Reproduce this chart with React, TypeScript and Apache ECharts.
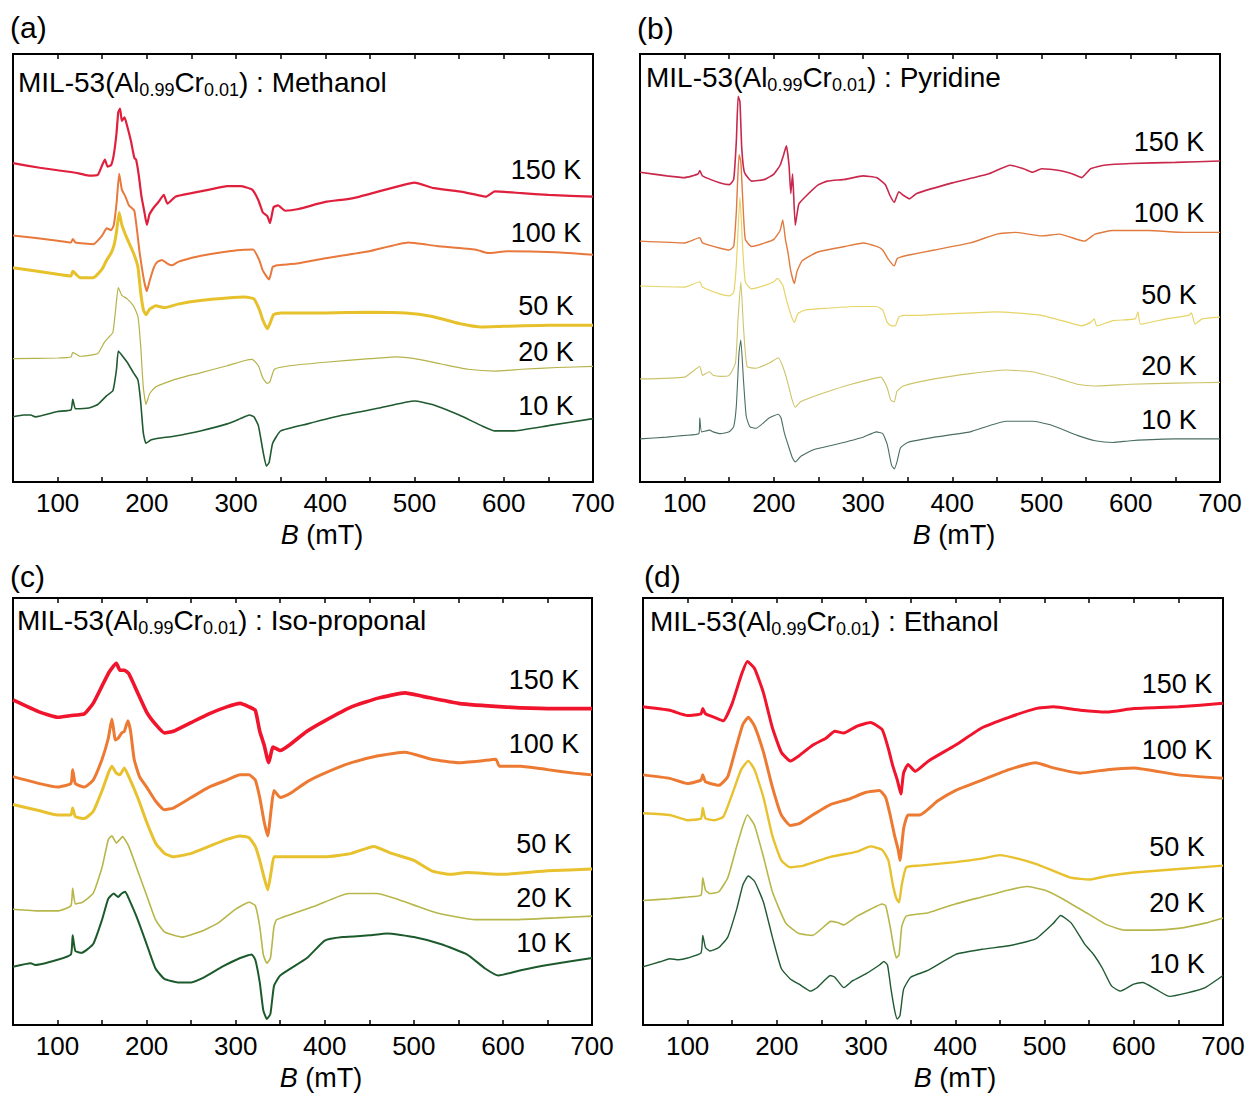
import React, { useEffect, useRef } from 'react';
import * as echarts from 'echarts';

// ---- Data: B (mT) vs EPR signal (arbitrary units, offset stacks) ----
const temperatures = ['150 K', '100 K', '50 K', '20 K', '10 K'];
const fieldTicks = [100, 200, 300, 400, 500, 600, 700];

// (a) Methanol
const methanol150 = [[50,935],[80,922],[100,915],[120,908],[135,900],[145,902],[150,930],[153,945],[156,925],[160,930],[163,960],[166,1020],[168,1080],[170,1090],[172,1055],[175,1065],[178,1040],[182,1000],[186,950],[188,945],[191,900],[194,840],[197,800],[200,760],[203,790],[208,810],[213,825],[219,845],[223,820],[232,840],[250,850],[270,860],[290,870],[305,870],[318,860],[325,830],[330,795],[335,785],[338,765],[342,810],[347,815],[355,800],[370,805],[400,825],[430,835],[460,855],[490,875],[500,880],[520,865],[550,855],[570,845],[580,840],[590,855],[620,850],[650,845],[700,840]];
const methanol100 = [[50,730],[100,715],[115,710],[117,720],[120,710],[140,705],[150,730],[155,750],[160,745],[163,760],[166,820],[169,905],[172,860],[176,840],[180,815],[186,800],[192,680],[197,600],[200,572],[203,600],[208,640],[212,655],[217,660],[223,650],[228,645],[235,655],[257,670],[279,680],[301,688],[319,690],[326,660],[330,630],[337,605],[341,640],[346,645],[368,650],[400,665],[449,685],[493,710],[525,700],[568,690],[582,680],[604,685],[658,682],[700,675]];
const methanol50 = [[50,638],[100,620],[115,615],[117,628],[125,610],[140,610],[150,635],[155,660],[160,680],[163,700],[166,740],[169,795],[172,760],[178,720],[185,680],[190,640],[193,570],[196,520],[199,505],[203,520],[210,530],[220,525],[235,535],[260,545],[290,552],[310,555],[320,550],[326,520],[330,490],[335,465],[338,480],[342,505],[350,510],[400,510],[450,512],[490,510],[520,500],[550,480],[575,470],[600,472],[650,475],[700,475]];
const methanol20 = [[50,380],[100,382],[115,385],[117,398],[125,387],[145,395],[152,425],[157,440],[162,455],[165,520],[168,582],[172,560],[178,550],[185,530],[190,500],[193,420],[196,300],[199,250],[203,280],[210,300],[230,320],[260,340],[290,360],[310,375],[318,378],[325,360],[330,325],[335,310],[338,315],[343,350],[360,360],[400,370],[450,380],[480,385],[500,380],[530,365],[560,350],[590,345],[620,350],[660,355],[700,358]];
const methanol10 = [[50,215],[62,220],[70,220],[75,215],[100,230],[115,235],[117,265],[120,238],[135,240],[145,250],[155,275],[162,290],[166,350],[168,402],[172,390],[178,370],[185,340],[190,320],[193,260],[196,170],[199,140],[205,150],[215,155],[230,160],[260,175],[290,195],[305,210],[315,220],[320,215],[325,190],[330,120],[334,75],[337,85],[341,140],[350,175],[380,195],[420,220],[460,240],[500,260],[520,250],[550,220],[575,190],[590,175],[610,175],[650,190],[700,210]];

// (b) Pyridine
const pyridine150 = [[50,910],[80,900],[100,895],[115,905],[117,915],[120,900],[140,880],[150,875],[155,890],[158,1000],[160,1125],[162,1110],[164,980],[167,910],[175,885],[190,890],[200,905],[207,930],[211,960],[214,985],[217,930],[219,850],[221,905],[224,760],[228,820],[235,840],[250,875],[260,885],[280,890],[300,900],[315,895],[325,875],[330,845],[335,825],[340,855],[345,845],[352,835],[360,850],[400,880],[440,905],[465,930],[480,920],[490,910],[500,920],[520,915],[535,905],[545,895],[555,920],[570,930],[600,935],[650,938],[700,942]];
const pyridine100 = [[50,715],[100,710],[117,725],[120,710],[140,695],[150,690],[155,700],[158,800],[161,960],[163,940],[165,840],[168,720],[175,700],[190,710],[200,720],[207,745],[210,775],[213,720],[216,680],[219,630],[223,595],[226,630],[232,660],[250,685],[280,700],[300,710],[315,700],[322,690],[328,665],[335,645],[338,665],[342,670],[350,675],[380,690],[420,710],[450,735],[470,740],[500,730],[520,735],[540,720],[548,715],[560,735],[580,745],[620,745],[660,740],[700,740]];
const pyridine50 = [[50,588],[100,585],[117,600],[120,585],[140,565],[150,560],[155,570],[158,650],[162,840],[165,700],[168,600],[175,580],[190,590],[200,600],[204,610],[210,590],[215,540],[220,500],[223,485],[227,510],[235,520],[260,525],[290,530],[315,530],[322,520],[327,485],[332,475],[336,475],[340,500],[345,505],[360,505],[400,510],[450,515],[470,512],[500,505],[530,485],[545,475],[555,485],[559,495],[562,475],[580,490],[605,495],[608,515],[611,480],[640,495],[665,505],[668,512],[672,480],[680,495],[700,500]];
const pyridine20 = [[50,325],[100,330],[117,360],[120,335],[128,345],[132,335],[140,332],[150,335],[157,370],[160,500],[163,600],[166,470],[170,360],[180,355],[195,370],[205,385],[210,360],[215,320],[220,270],[224,245],[230,260],[250,280],[280,305],[310,325],[320,330],[327,300],[331,265],[335,260],[338,290],[345,305],[380,325],[420,340],[460,350],[490,345],[520,325],[540,310],[560,305],[600,310],[650,313],[700,315]];
const pyridine10 = [[50,155],[80,160],[100,165],[116,170],[117,215],[119,175],[128,180],[132,175],[140,170],[150,175],[155,190],[158,250],[161,400],[163,435],[166,320],[169,220],[173,190],[180,185],[195,215],[205,225],[208,215],[212,170],[217,130],[221,100],[224,90],[230,105],[245,125],[270,140],[300,160],[315,175],[322,170],[327,140],[332,80],[335,70],[338,90],[342,130],[350,145],[380,160],[420,175],[460,205],[490,205],[510,195],[540,165],[560,150],[580,145],[600,150],[650,155],[700,155]];

// (c) Iso-proponal
const isopropanol150 = [[50,970],[80,935],[100,920],[115,925],[130,930],[140,960],[150,1010],[158,1050],[166,1075],[170,1055],[175,1055],[180,1045],[190,990],[200,935],[210,900],[220,875],[230,880],[250,905],[270,930],[290,950],[305,960],[315,950],[322,940],[327,880],[332,840],[337,790],[342,835],[350,825],[360,840],[380,880],[400,910],[430,950],[460,975],[490,990],[510,980],[550,960],[600,950],[650,945],[700,945]];
const isopropanol100 = [[50,750],[80,730],[100,720],[115,730],[117,770],[120,730],[130,720],[140,740],[150,800],[157,860],[161,915],[165,855],[168,860],[172,875],[175,880],[179,910],[182,880],[186,800],[192,750],[200,720],[210,680],[220,655],[230,660],[250,690],[270,720],[290,740],[305,755],[315,755],[322,740],[327,690],[332,620],[336,580],[340,660],[343,710],[350,690],[360,700],[380,735],[400,760],[430,790],[460,810],[490,820],[520,800],[550,790],[575,795],[592,800],[596,780],[620,780],[650,770],[680,760],[700,755]];
const isopropanol50 = [[50,670],[80,652],[100,640],[115,640],[117,660],[120,635],[130,630],[140,650],[150,710],[157,760],[161,780],[166,760],[170,755],[175,775],[180,750],[190,690],[200,620],[210,560],[220,530],[230,520],[250,530],[270,550],[290,570],[305,580],[315,575],[322,550],[327,510],[332,460],[336,425],[340,480],[343,520],[350,520],[400,520],[430,530],[455,550],[475,530],[500,510],[520,480],[540,470],[560,475],[600,470],[650,480],[700,485]];
const isopropanol20 = [[50,370],[80,365],[100,365],[115,380],[117,430],[120,385],[128,390],[140,415],[150,490],[157,570],[161,580],[166,560],[170,570],[173,578],[180,550],[190,480],[200,410],[210,340],[220,305],[240,290],[260,305],[280,330],[300,370],[315,390],[322,380],[327,320],[331,240],[335,215],[339,230],[343,320],[346,340],[390,380],[427,415],[458,415],[480,400],[525,360],[569,340],[613,340],[660,345],[700,350]];
const isopropanol10 = [[50,205],[70,215],[75,210],[100,225],[115,240],[117,295],[120,250],[127,245],[140,270],[150,340],[157,400],[163,415],[168,405],[172,415],[176,420],[180,400],[190,340],[200,270],[210,200],[220,170],[235,160],[250,160],[265,175],[285,205],[305,230],[318,240],[322,225],[327,160],[331,80],[335,55],[339,70],[343,150],[350,180],[380,230],[400,280],[420,290],[450,295],[470,300],[500,290],[530,270],[560,240],[580,200],[595,180],[620,195],[650,210],[700,230]];

// (d) Ethanol
const ethanol150 = [[50,950],[80,940],[100,925],[115,930],[117,945],[120,930],[130,920],[140,910],[150,960],[160,1040],[167,1080],[175,1060],[185,990],[195,890],[205,820],[215,795],[225,810],[240,840],[255,860],[265,880],[275,875],[290,895],[305,905],[318,885],[325,830],[330,780],[335,740],[339,700],[342,760],[347,785],[355,765],[370,795],[400,840],[430,890],[460,920],[490,945],[510,950],[540,940],[570,935],[600,945],[650,950],[700,960]];
const ethanol100 = [[50,755],[80,745],[100,730],[115,740],[117,755],[120,735],[135,725],[145,750],[155,840],[162,900],[168,920],[175,895],[185,820],[195,720],[205,640],[215,610],[225,615],[240,640],[260,670],[280,685],[300,705],[315,710],[322,690],[327,640],[332,580],[336,540],[338,510],[342,600],[347,640],[360,640],[380,680],[400,710],[430,740],[460,770],[490,790],[510,775],[540,760],[570,770],[600,775],[650,755],[700,745]];
const ethanol50 = [[50,645],[80,640],[100,625],[115,630],[117,660],[120,630],[130,625],[140,635],[150,700],[160,770],[168,795],[175,770],[185,690],[195,580],[205,510],[215,490],[230,495],[260,520],[290,535],[305,550],[318,540],[325,510],[330,440],[334,400],[337,390],[340,440],[345,490],[360,495],[400,505],[430,515],[450,525],[470,515],[490,500],[510,480],[530,460],[550,455],[570,465],[600,475],[650,485],[700,495]];
const ethanol20 = [[50,395],[80,400],[100,405],[115,410],[117,460],[120,425],[125,415],[135,420],[145,460],[155,550],[162,610],[167,640],[175,610],[185,520],[195,420],[210,330],[225,300],[240,295],[255,325],[260,335],[268,332],[275,325],[290,350],[305,370],[318,385],[322,380],[327,320],[331,260],[334,230],[337,240],[340,320],[345,350],[370,360],[400,385],[430,405],[460,425],[480,435],[500,425],[520,400],[550,355],[570,325],[590,310],[620,310],[650,315],[680,330],[700,345]];
const ethanol10 = [[50,205],[70,220],[80,228],[90,225],[100,230],[115,245],[117,295],[120,260],[125,250],[135,260],[145,290],[155,370],[162,440],[168,465],[175,450],[185,390],[195,290],[205,200],[215,170],[225,155],[238,135],[245,145],[255,170],[260,180],[265,175],[275,145],[285,165],[300,185],[315,210],[320,220],[324,210],[328,140],[332,80],[335,55],[338,65],[342,140],[350,175],[370,195],[400,240],[430,255],[460,265],[490,285],[510,330],[518,352],[530,330],[545,270],[555,240],[565,200],[575,150],[585,135],[600,155],[610,160],[625,140],[640,120],[660,130],[680,145],[700,180]];

// ---- Layout / style (not data) ----
const FONT = '"Liberation Sans", Arial, sans-serif';
const MAIN_SIZE = 28;
const SUB_SIZE = 18;
const PANELS = [
  {
    letter: '(a)', solvent: 'Methanol',
    series: [methanol150, methanol100, methanol50, methanol20, methanol10],
    colors: ['#e01f3d', '#e8783c', '#e6c12c', '#b5b24a', '#1f5a30'],
    widths: [2.2, 2, 3, 1.2, 1.6],
    grid: { left: 13, top: 54, width: 580, height: 428 },
    yRange: [30, 1245],
    letterPos: [10, 27], titlePos: [18, 82], namePos: [322, 535],
    tempX: 546, tempY: [170, 233, 306, 352, 406],
  },
  {
    letter: '(b)', solvent: 'Pyridine',
    series: [pyridine150, pyridine100, pyridine50, pyridine20, pyridine10],
    colors: ['#c8284c', '#e07a3e', '#e6d466', '#cdc46a', '#4a6e60'],
    widths: [1.6, 1.4, 1.2, 1.1, 1.1],
    grid: { left: 640, top: 54, width: 580, height: 428 },
    yRange: [33, 1245],
    letterPos: [637, 28], titlePos: [646, 77], namePos: [954, 535],
    tempX: 1169, tempY: [142, 213, 295, 366, 420],
  },
  {
    letter: '(c)', solvent: 'Iso-proponal',
    series: [isopropanol150, isopropanol100, isopropanol50, isopropanol20, isopropanol10],
    colors: ['#f0142c', '#ec7a32', '#e8c12e', '#b6b64a', '#1c5a2c'],
    widths: [3.6, 3, 3, 1.6, 2],
    grid: { left: 13, top: 598, width: 579, height: 427 },
    yRange: [38, 1262],
    letterPos: [10, 576], titlePos: [17, 620], namePos: [321, 1078],
    tempX: 544, tempY: [680, 744, 844, 898, 943],
  },
  {
    letter: '(d)', solvent: 'Ethanol',
    series: [ethanol150, ethanol100, ethanol50, ethanol20, ethanol10],
    colors: ['#f0142c', '#ec7a32', '#e8c12e', '#b6b64a', '#1f5a32'],
    widths: [3, 3, 2.4, 1.6, 1.4],
    grid: { left: 643, top: 598, width: 580, height: 427 },
    yRange: [38, 1262],
    letterPos: [644, 576], titlePos: [650, 621], namePos: [955, 1078],
    tempX: 1177, tempY: [684, 750, 847, 903, 964],
  },
];

let measureCtx: CanvasRenderingContext2D | null = null;
function textWidth(text: string, size: number) {
  if (!measureCtx) measureCtx = document.createElement('canvas').getContext('2d');
  if (!measureCtx) return text.length * size * 0.55;
  measureCtx.font = `${size}px ${FONT}`;
  return measureCtx.measureText(text).width;
}

function titleGroup(x: number, y: number, solvent: string) {
  const parts: [string, boolean][] = [
    ['MIL-53(Al', false], ['0.99', true], ['Cr', false], ['0.01', true], [`) : ${solvent}`, false],
  ];
  let cx = 0;
  const children = parts.map(([t, sub]) => {
    const size = sub ? SUB_SIZE : MAIN_SIZE;
    const el = {
      type: 'text', x: cx, y: sub ? 8 : 0,
      style: { text: t, font: `${size}px ${FONT}`, fill: '#000', textAlign: 'left', textVerticalAlign: 'middle' },
    };
    cx += textWidth(t, size);
    return el;
  });
  return { type: 'group', x, y, children };
}

function buildOption() {
  const grids: any[] = [];
  const xAxes: any[] = [];
  const yAxes: any[] = [];
  const series: any[] = [];
  const graphics: any[] = [];

  PANELS.forEach((p, i) => {
    grids.push({ ...p.grid, show: true, borderColor: '#000', borderWidth: 2, backgroundColor: 'transparent' });
    const common = {
      type: 'value', gridIndex: i, min: 50, max: 700, interval: 50,
      axisLine: { show: false },
      splitLine: { show: false },
      axisTick: { show: true, inside: true, length: 5, lineStyle: { color: '#000', width: 1.5 } },
    };
    xAxes.push({
      ...common, position: 'bottom',
      axisLabel: {
        show: true, margin: 8, color: '#000', fontSize: 26, fontFamily: FONT,
        showMinLabel: true, showMaxLabel: true,
        formatter: (v: number) => (fieldTicks.includes(v) ? String(v) : ''),
      },
    });
    xAxes.push({ ...common, position: 'top', axisLabel: { show: false } });
    yAxes.push({ type: 'value', gridIndex: i, min: p.yRange[0], max: p.yRange[1], show: false });

    p.series.forEach((data, k) => {
      series.push({
        name: `${p.solvent} ${temperatures[k]}`,
        type: 'line',
        xAxisIndex: i * 2,
        yAxisIndex: i,
        data,
        showSymbol: false,
        symbol: 'none',
        smooth: 0.15,
        clip: true,
        lineStyle: { color: p.colors[k], width: p.widths[k] },
        z: 2,
      });
    });

    graphics.push({
      type: 'text', x: p.letterPos[0], y: p.letterPos[1],
      style: { text: p.letter, font: `30px ${FONT}`, fill: '#000', textAlign: 'left', textVerticalAlign: 'middle' },
    });
    graphics.push(titleGroup(p.titlePos[0], p.titlePos[1], p.solvent));
    graphics.push({
      type: 'text', x: p.namePos[0], y: p.namePos[1],
      style: {
        text: '{i|B}{n| (mT)}', fill: '#000', textAlign: 'center', textVerticalAlign: 'middle',
        rich: {
          i: { fontSize: 27, fontFamily: FONT, fontStyle: 'italic', lineHeight: 30, fill: '#000' },
          n: { fontSize: 27, fontFamily: FONT, lineHeight: 30, fill: '#000' },
        },
      },
    });
    temperatures.forEach((t, k) => {
      graphics.push({
        type: 'text', x: p.tempX, y: p.tempY[k],
        style: { text: t, font: `27px ${FONT}`, fill: '#000', textAlign: 'center', textVerticalAlign: 'middle' },
      });
    });
  });

  return {
    animation: false,
    backgroundColor: '#ffffff',
    grid: grids,
    xAxis: xAxes,
    yAxis: yAxes,
    series,
    graphic: graphics,
  };
}

export default function App() {
  const ref = useRef<HTMLDivElement>(null);
  useEffect(() => {
    if (!ref.current) return;
    const chart = echarts.init(ref.current, undefined, { renderer: 'svg' });
    chart.setOption(buildOption() as any);
    return () => chart.dispose();
  }, []);
  return (
    <div
      ref={ref}
      style={{ position: 'fixed', left: 0, top: 0, width: 1249, height: 1094, background: '#fff' }}
    />
  );
}
